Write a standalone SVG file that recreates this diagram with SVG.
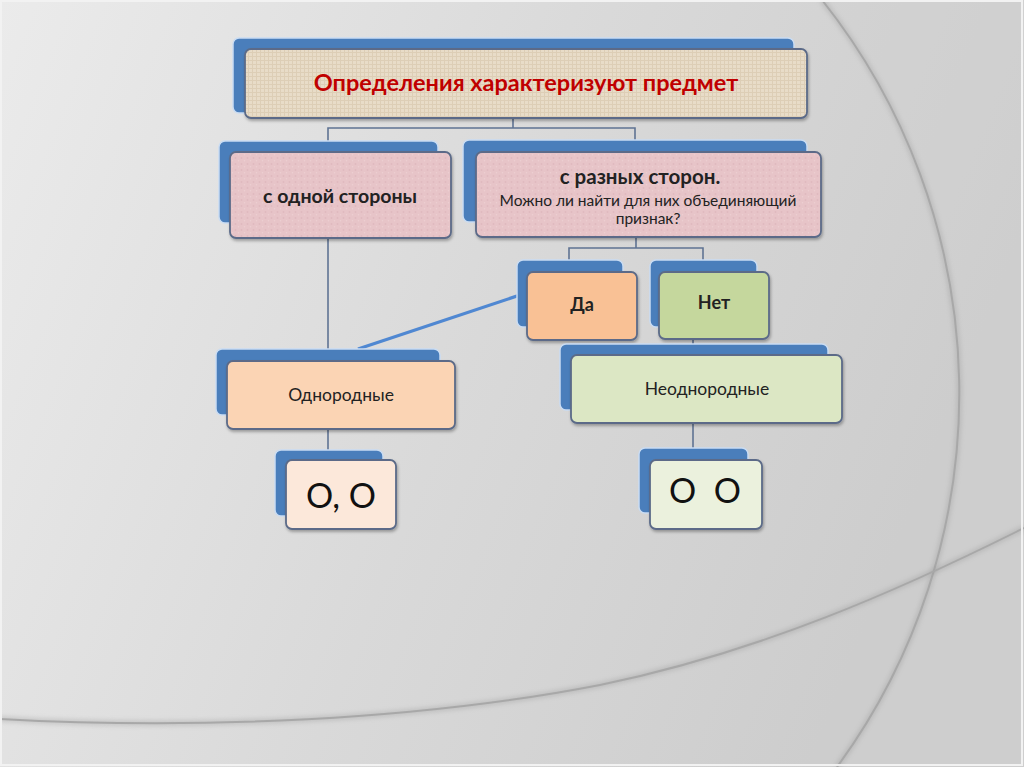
<svg xmlns="http://www.w3.org/2000/svg" width="1024" height="767" viewBox="0 0 1024 767">
<defs>
<linearGradient id="bg" x1="0" y1="0" x2="1" y2="0.3">
<stop offset="0" stop-color="#ebebeb"/>
<stop offset="0.55" stop-color="#d9d9d9"/>
<stop offset="1" stop-color="#cdcdcd"/>
</linearGradient>
<pattern id="burlap" width="4" height="4" patternUnits="userSpaceOnUse">
<rect width="4" height="4" fill="#e8dcc8"/>
<path d="M0 0.5H4M0.5 0V4" stroke="#ddceb6" stroke-width="1"/>
</pattern>
<pattern id="pinktex" width="6" height="6" patternUnits="userSpaceOnUse">
<rect width="6" height="6" fill="#e7c4c8"/>
<circle cx="1.5" cy="2" r="0.9" fill="#e0b9be"/>
<circle cx="4.5" cy="4.8" r="0.8" fill="#edcfd2"/>
</pattern>
<filter id="sh" x="-10%" y="-10%" width="130%" height="140%">
<feDropShadow dx="1" dy="2" stdDeviation="1.5" flood-color="#000" flood-opacity="0.3"/>
</filter>
<filter id="soft" x="-5%" y="-5%" width="110%" height="110%">
<feGaussianBlur stdDeviation="2"/>
</filter>
</defs>
<style>
.back{fill:#4a7ebb;stroke:#c9dcf3;stroke-width:1.5}
.front{stroke:#5b6b88;stroke-width:1.8;filter:url(#sh)}
.conn{fill:none;stroke:#5f7393;stroke-width:1.6}
.t{font-family:Lato,"Liberation Sans",sans-serif;text-anchor:middle;fill:#222}
.b{font-weight:bold}
.curve{fill:none;stroke:#a8a8a8;stroke-width:2}
.curvesh{fill:none;stroke:#9a9a9a;stroke-width:6;opacity:0.35;filter:url(#soft)}
</style>
<rect width="1024" height="767" fill="url(#bg)"/>
<path d="M822,0 A632,632 0 0 1 837,767 L1024,767 L1024,0 Z" fill="#d2d2d2" opacity="0.35"/>
<path class="curvesh" d="M822,0 A632,632 0 0 1 837,767"/>
<path class="curve" d="M822,0 A632,632 0 0 1 837,767"/>
<path class="curvesh" d="M0,719 C200,730 420,720 600,685 C760,652 900,590 1024,528"/>
<path class="curve" d="M0,719 C200,730 420,720 600,685 C760,652 900,590 1024,528"/>
<rect x="1" y="1" width="1021" height="764" fill="none" stroke="#f2f2f2" stroke-width="2"/>

<g id="connectors">
<path class="conn" d="M513,118V128M328,141V128H635V141"/>
<path class="conn" d="M328,238V350"/>
<path class="conn" d="M636,237V248M569,260V248H703V260"/>
<path class="conn" d="M693,339V355"/>
<path class="conn" d="M328,429V450"/>
<path class="conn" d="M693,423V448"/>
<path d="M526,293L358,349" stroke="#5088d2" stroke-width="3.2" fill="none"/>
</g>

<g id="node-title">
<rect class="back" x="233" y="38" width="561" height="75" rx="6"/>
<rect class="front" x="245" y="49" width="562" height="69" rx="6" fill="url(#burlap)"/>
<text class="t b" x="526" y="91" font-size="23.5" style="fill:#c00000">Определения характеризуют предмет</text>
</g>

<g id="node-odna">
<rect class="back" x="219" y="141" width="219" height="82" rx="6"/>
<rect class="front" x="230" y="152" width="221" height="86" rx="6" fill="url(#pinktex)"/>
<text class="t b" x="340" y="203" font-size="19.5">с одной стороны</text>
</g>

<g id="node-raznye">
<rect class="back" x="463" y="140" width="344" height="82" rx="6"/>
<rect class="front" x="476" y="152" width="345" height="85" rx="6" fill="url(#pinktex)"/>
<text class="t b" x="640" y="184" font-size="20.5">с разных сторон.</text>
<text class="t" x="648" y="206" font-size="15.5">Можно ли найти для них объединяющий</text>
<text class="t" x="648" y="224" font-size="15.5">признак?</text>
</g>

<g id="node-da">
<rect class="back" x="517" y="260" width="106" height="67" rx="6"/>
<rect class="front" x="527" y="272" width="110" height="68" rx="6" fill="#f9c195"/>
<text class="t b" x="582" y="311" font-size="18">Да</text>
</g>

<g id="node-net">
<rect class="back" x="650" y="260" width="107" height="67" rx="6"/>
<rect class="front" x="659" y="272" width="110" height="67" rx="6" fill="#c5d79d"/>
<text class="t b" x="714" y="309" font-size="18">Нет</text>
</g>

<g id="node-odnorodnye">
<rect class="back" x="216" y="349" width="224" height="66" rx="6"/>
<rect class="front" x="227" y="361" width="228" height="68" rx="6" fill="#fbd4b4"/>
<text class="t" x="341" y="401" font-size="17.5">Однородные</text>
</g>

<g id="node-neodnorodnye">
<rect class="back" x="560" y="344" width="268" height="66" rx="6"/>
<rect class="front" x="571" y="355" width="271" height="68" rx="6" fill="#dce7c4"/>
<text class="t" x="707" y="395" font-size="17.5">Неоднородные</text>
</g>

<g id="node-oo1">
<rect class="back" x="275" y="450" width="108" height="66" rx="6"/>
<rect class="front" x="286" y="460" width="110" height="69" rx="6" fill="#fce8da"/>
<text class="t" x="341" y="508" font-size="34" style="fill:#111">О, О</text>
</g>

<g id="node-oo2">
<rect class="back" x="639" y="448" width="109" height="65" rx="6"/>
<rect class="front" x="650" y="460" width="112" height="69" rx="6" fill="#ebf1dd"/>
<text class="t" x="705" y="503" font-size="34" style="fill:#111" xml:space="preserve">О  О</text>
</g>
</svg>
